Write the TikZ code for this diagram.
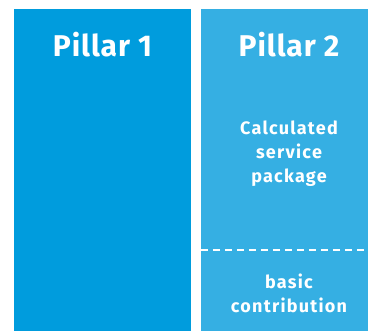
\documentclass[tikz,border=0pt]{standalone}
\usepackage{fontspec}
\setmainfont{Fira Sans}
\newfontfamily\labfont[LetterSpace=7]{Fira Sans}
\newfontfamily\titfont[LetterSpace=3]{Fira Sans}
\definecolor{pone}{HTML}{009CDD}
\definecolor{ptwo}{HTML}{35AFE3}
\tikzset{
  pillar/.style={fill=#1, draw=none},
  title/.style={text=white, font=\titfont\fontsize{30}{32}\selectfont\bfseries, inner sep=0pt, anchor=base},
  label/.style={text=white, font=\labfont\fontsize{18}{24}\selectfont\bfseries, inner sep=0pt, align=center, anchor=base},
  sep/.style={white, line width=2.4pt, dash pattern=on 7pt off 5pt}
}
\begin{document}
\begin{tikzpicture}[x=1pt,y=-1pt]
\useasboundingbox (0,0) rectangle (368,331);
\path[pillar=pone] (14,9) rectangle (191,331);
\path[pillar=ptwo] (201,9) rectangle (368,331);
\node[title] (p1) at (102.5,57) {Pillar 1};
\node[title] (p2) at (289,57) {Pillar 2};
\node[label] (calc) at (289,135) {Calculated};
\node[label] (serv) at (289,159) {service};
\node[label] (pack) at (289,183) {package};
\node[label] (basic) at (289,289) {basic};
\node[label] (contr) at (289,313) {contribution};
\coordinate (dl) at (201,250);
\coordinate (dr) at (368,250);
\draw[sep] (dl) -- (dr);
\end{tikzpicture}
\end{document}
